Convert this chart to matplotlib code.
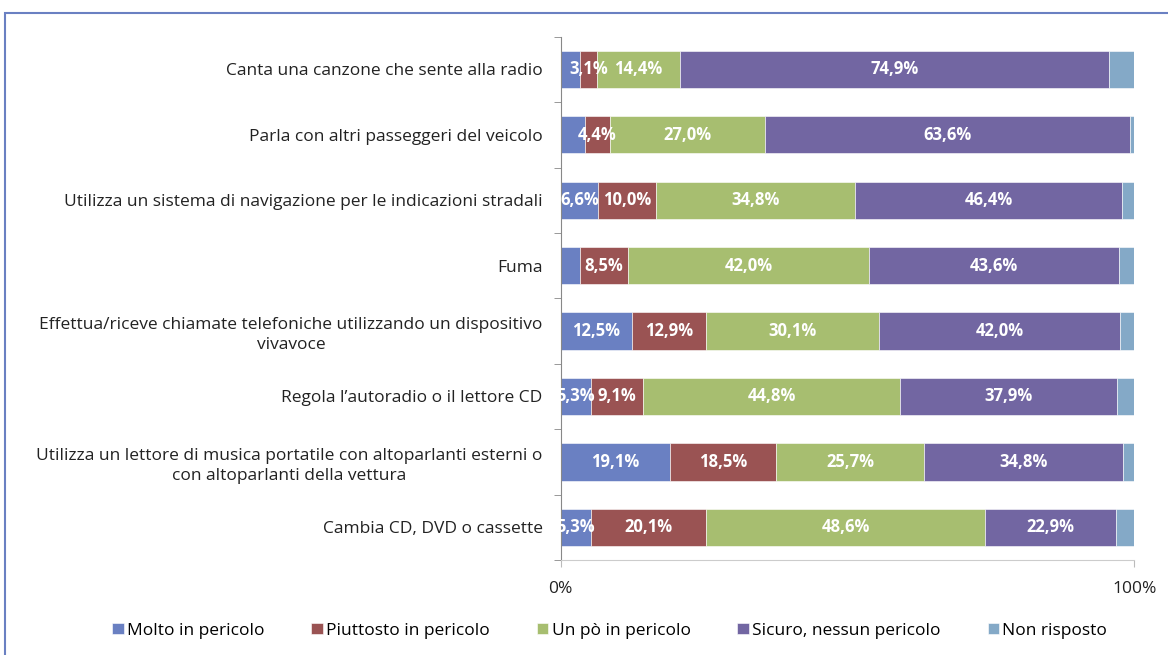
import numpy as np
import matplotlib.pyplot as plt
from matplotlib.patches import Rectangle

plt.rcParams['font.family'] = ['Open Sans', 'DejaVu Sans']

categories = [
    "Canta una canzone che sente alla radio",
    "Parla con altri passeggeri del veicolo",
    "Utilizza un sistema di navigazione per le indicazioni stradali",
    "Fuma",
    "Effettua/riceve chiamate telefoniche utilizzando un dispositivo\nvivavoce",
    "Regola l\u2019autoradio o il lettore CD",
    "Utilizza un lettore di musica portatile con altoparlanti esterni o\ncon altoparlanti della vettura",
    "Cambia CD, DVD o cassette",
]
series = ["Molto in pericolo", "Piuttosto in pericolo", "Un pò in pericolo",
          "Sicuro, nessun pericolo", "Non risposto"]

molto = [3.3, 4.2, 6.6, 3.3, 12.5, 5.3, 19.1, 5.3]
piuttosto = [3.1, 4.4, 10.0, 8.5, 12.9, 9.1, 18.5, 20.1]
un_po = [14.4, 27.0, 34.8, 42.0, 30.1, 44.8, 25.7, 48.6]
sicuro = [74.9, 63.6, 46.4, 43.6, 42.0, 37.9, 34.8, 22.9]
non_risp = [4.3, 0.8, 2.2, 2.6, 2.5, 2.9, 1.9, 3.1]

# which segments carry a label
show = [
    [False, True, True, True, False],
    [False, True, True, True, False],
    [True, True, True, True, False],
    [False, True, True, True, False],
    [True, True, True, True, False],
    [True, True, True, True, False],
    [True, True, True, True, False],
    [True, True, True, True, False],
]

colors = ["#6A80C2", "#9A5353", "#A7BE70", "#7266A2", "#84A9C7"]

data = np.array([molto, piuttosto, un_po, sicuro, non_risp])

fig = plt.figure(figsize=(11.68, 6.55), dpi=100)
ax = fig.add_axes([0.480, 0.145, 0.491, 0.799])

y = np.arange(len(categories))
left = np.zeros(len(categories))
for k in range(len(series)):
    ax.barh(y, data[k], left=left, height=0.57, color=colors[k],
            label=series[k], edgecolor='white', linewidth=0.4)
    for i in range(len(categories)):
        if show[i][k]:
            txt = ('%.1f%%' % data[k][i]).replace('.', ',')
            ax.text(left[i] + data[k][i] / 2, y[i], txt, ha='center',
                    va='center', color='white', fontsize=12, fontweight='bold')
    left += data[k]

ax.set_ylim(len(categories) - 0.5, -0.5)
ax.set_xlim(0, 100)
ax.set_yticks(y)
ax.set_yticklabels(categories, fontsize=12.5, color='#222222', linespacing=1.35,
                   multialignment='center')
ax.set_yticks(np.arange(-0.5, len(categories), 1), minor=True)
ax.tick_params(axis='y', which='major', length=0, pad=13)
ax.tick_params(axis='y', which='minor', length=5, color='#888888')
ax.set_xticks([0, 100])
ax.set_xticklabels(['0%', '100%'], fontsize=12.5, color='#222222')
ax.tick_params(axis='x', length=5, color='#bbbbbb', pad=10)

for s in ['top', 'right']:
    ax.spines[s].set_visible(False)
ax.spines['left'].set_color('#888888')
ax.spines['bottom'].set_color('#cccccc')

ax.legend(loc='center', bbox_to_anchor=(0.522, 0.037), bbox_transform=fig.transFigure,
          ncol=5, frameon=False, fontsize=12.5, handlelength=0.65, handleheight=0.65,
          handletextpad=0.2, columnspacing=2.7)

# outer frame
fig.patches.append(Rectangle((0.004, -0.01), 1.2, 0.99, transform=fig.transFigure,
                             fill=False, edgecolor='#6A80C2', linewidth=1.5))

fig.savefig('out.png', dpi=100)
